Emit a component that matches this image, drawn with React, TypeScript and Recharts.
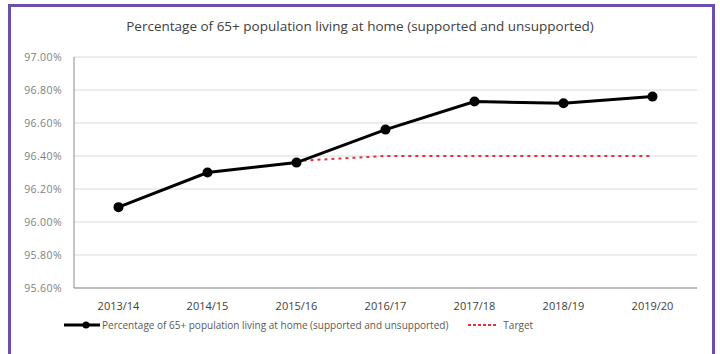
import { LineChart, Line, XAxis, YAxis, CartesianGrid, Legend } from "recharts";

const years = ["2013/14", "2014/15", "2015/16", "2016/17", "2017/18", "2018/19", "2019/20"];
const livingAtHome = [96.09, 96.3, 96.36, 96.56, 96.73, 96.72, 96.76];
const target = [null, null, 96.37, 96.4, 96.4, 96.4, 96.4];
const yTicks = [95.6, 95.8, 96.0, 96.2, 96.4, 96.6, 96.8, 97.0];

const title = "Percentage of 65+ population living at home (supported and unsupported)";
const mainName = "Percentage of 65+ population living at home (supported and unsupported)";
const targetName = "Target";

const data = years.map((year, i) => ({
  year,
  value: livingAtHome[i],
  target: target[i],
}));

const font = "'Open Sans', 'Noto Sans', sans-serif";

function LegendContent(props: any) {
  const payload = props.payload || [];
  return (
    <div style={{ display: "flex", alignItems: "center", paddingLeft: 64, fontFamily: font, fontSize: 10, color: "#595959" }}>
      {payload.map((entry: any) => (
        <div key={entry.value} style={{ display: "flex", alignItems: "center", marginRight: 20 }}>
          {entry.dataKey === "value" ? (
            <svg width={36} height={10} style={{ marginRight: 2 }}>
              <line x1={0} y1={5} x2={36} y2={5} stroke="#000" strokeWidth={3} />
              <circle cx={22} cy={5} r={3.5} fill="#000" />
            </svg>
          ) : (
            <svg width={30} height={10} style={{ marginRight: 5 }}>
              <line x1={0} y1={5} x2={30} y2={5} stroke="#e8303a" strokeWidth={2} strokeDasharray="3 2" />
            </svg>
          )}
          <span>{entry.value}</span>
        </div>
      ))}
    </div>
  );
}

export default function App() {
  return (
    <div style={{ position: "fixed", left: 0, top: 0, width: 720, height: 354, background: "#fff", overflow: "hidden" }}>
      <div
        style={{
          position: "absolute",
          left: 8,
          top: 4,
          width: 701,
          height: 400,
          border: "3px solid #6a4fb0",
        }}
      />
      <div
        style={{
          position: "absolute",
          left: 0,
          top: 17,
          width: 720,
          textAlign: "center",
          fontFamily: font,
          fontSize: 13.5,
          color: "#404040",
        }}
      >
        {title}
      </div>
      <div style={{ position: "absolute", left: 0, top: 0 }}>
        <LineChart width={720} height={354} data={data} margin={{ top: 57, right: 23, bottom: 36, left: 0 }}>
          <CartesianGrid vertical={false} stroke="#d9d9d9" />
          <XAxis
            dataKey="year"
            height={30}
            padding={{ left: 44.5, right: 44.5 }}
            tickLine={false}
            axisLine={{ stroke: "#8c8c8c" }}
            tick={{ fontSize: 11, fill: "#404040", fontFamily: font }}
            tickMargin={8}
          />
          <YAxis
            width={74}
            domain={[95.6, 97]}
            ticks={yTicks}
            interval={0}
            tickFormatter={(v: number) => v.toFixed(2) + "%"}
            tickLine={false}
            tickSize={0}
            tickMargin={12}
            axisLine={{ stroke: "#8c8c8c" }}
            tick={{ fontSize: 10.5, fill: "#7f7f7f", fontFamily: font, letterSpacing: 0.4 }}
          />
          <Line
            dataKey="target"
            name={targetName}
            stroke="#e8303a"
            strokeWidth={2}
            strokeDasharray="3 4"
            dot={false}
            isAnimationActive={false}
          />
          <Line
            dataKey="value"
            name={mainName}
            stroke="#000"
            strokeWidth={3}
            dot={{ r: 3.5, fill: "#000", stroke: "#000" }}
            isAnimationActive={false}
          />
          <Legend
            verticalAlign="middle"
            align="center"
            layout="horizontal"
            wrapperStyle={{ top: 318, left: 0, width: 720 }}
            itemSorter={(item: any) => (item.dataKey === "value" ? 0 : 1)}
            content={LegendContent}
          />
        </LineChart>
      </div>
    </div>
  );
}
